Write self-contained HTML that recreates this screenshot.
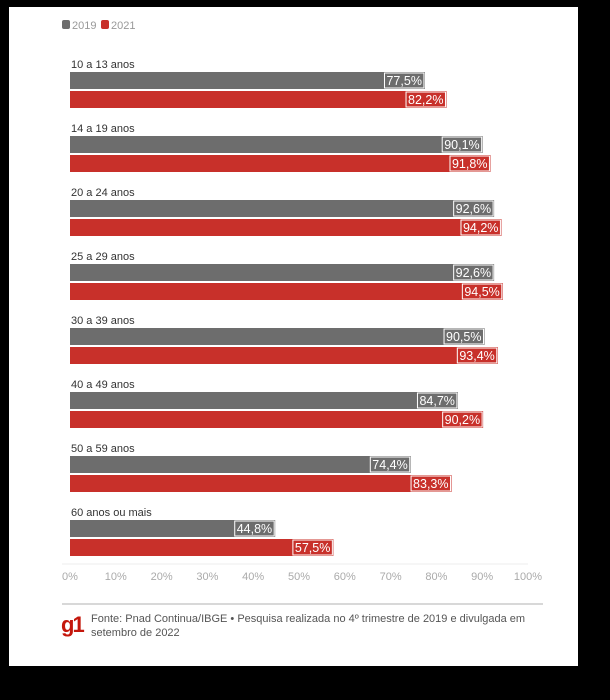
<!DOCTYPE html>
<html><head><meta charset="utf-8"><style>
body{margin:0;width:610px;height:700px;background:#000;overflow:hidden;font-family:"Liberation Sans",sans-serif}
#card{position:absolute;left:9px;top:7px;width:569px;height:659px;background:#fff}
</style></head><body>
<div id="card"></div>
<svg id="chart" width="610" height="700" style="position:absolute;left:0;top:0"></svg>
<script>
const categories=["10 a 13 anos","14 a 19 anos","20 a 24 anos","25 a 29 anos","30 a 39 anos","40 a 49 anos","50 a 59 anos","60 anos ou mais"];
const values2019=[77.5,90.1,92.6,92.6,90.5,84.7,74.4,44.8];
const values2021=[82.2,91.8,94.2,94.5,93.4,90.2,83.3,57.5];
const ticks=[0,10,20,30,40,50,60,70,80,90,100];
const svg=document.getElementById('chart');
const NS='http://www.w3.org/2000/svg';
const x=v=>70+v*4.58;
const rowY=i=>72+i*64;
function el(t,a,p){const e=document.createElementNS(NS,t);for(const k in a)e.setAttribute(k,a[k]);(p||svg).appendChild(e);return e;}
// legend
const lg=el('g',{});


[['2019','#6d6d6d',62],['2021','#c8302a',101]].forEach(([t,c,lx])=>{
 const g=el('g',{},lg);
 
 
 el('rect',{x:lx,y:20,width:8,height:9,rx:2,fill:c},g);
 const tx=el('text',{x:lx+10,y:29,'font-size':11,fill:'#999'},g);tx.textContent=t;
});
function label(g,v,c,y){
 const s=v.toFixed(1).replace('.',',')+'%';
 const r=el('rect',{y:y+1,height:15,fill:c,stroke:'#fff','stroke-width':1},g);
 const t=el('text',{x:x(v)-3,y:y+13,'font-size':12.5,fill:'#fff','text-anchor':'end'},g);t.textContent=s;
 const w=t.getComputedTextLength()+5;
 r.setAttribute('x',x(v)-w);r.setAttribute('width',w-1);
}
categories.forEach((c,i)=>{
 const y=rowY(i);
 const g=el('g',{});
 
 
 const t=el('text',{x:71,y:y-4,'font-size':11,fill:'#333'},g);t.textContent=c;
 const b1=el('rect',{x:x(0),y:y,width:x(values2019[i])-x(0),height:17,fill:'#6d6d6d'},g);
 
 
 const b2=el('rect',{x:x(0),y:y+19,width:x(values2021[i])-x(0),height:17,fill:'#c8302a'},g);
 
 
 label(g,values2019[i],'#6d6d6d',y);
 label(g,values2021[i],'#c8302a',y+19);
});
const ax=el('g',{});


el('line',{x1:62,x2:528,y1:564,y2:564,stroke:'#eee'},ax);
ticks.forEach(v=>{const t=el('text',{x:x(v),y:580,'font-size':11,fill:'#aaa','text-anchor':'middle'},ax);t.textContent=v+'%';});
const ft=el('g',{});


el('line',{x1:62,x2:543,y1:604,y2:604,stroke:'#ccc','stroke-width':1.5},ft);
const logo=el('text',{x:61,y:632,'font-size':22,'font-weight':'bold',fill:'#c4170c','letter-spacing':-2},ft);logo.textContent='g1';

const f1=el('text',{x:91,y:622,'font-size':11,fill:'#555'},ft);f1.textContent='Fonte: Pnad Continua/IBGE • Pesquisa realizada no 4º trimestre de 2019 e divulgada em';
const f2=el('text',{x:91,y:636,'font-size':11,fill:'#555'},ft);f2.textContent='setembro de 2022';
</script>
</body></html>
